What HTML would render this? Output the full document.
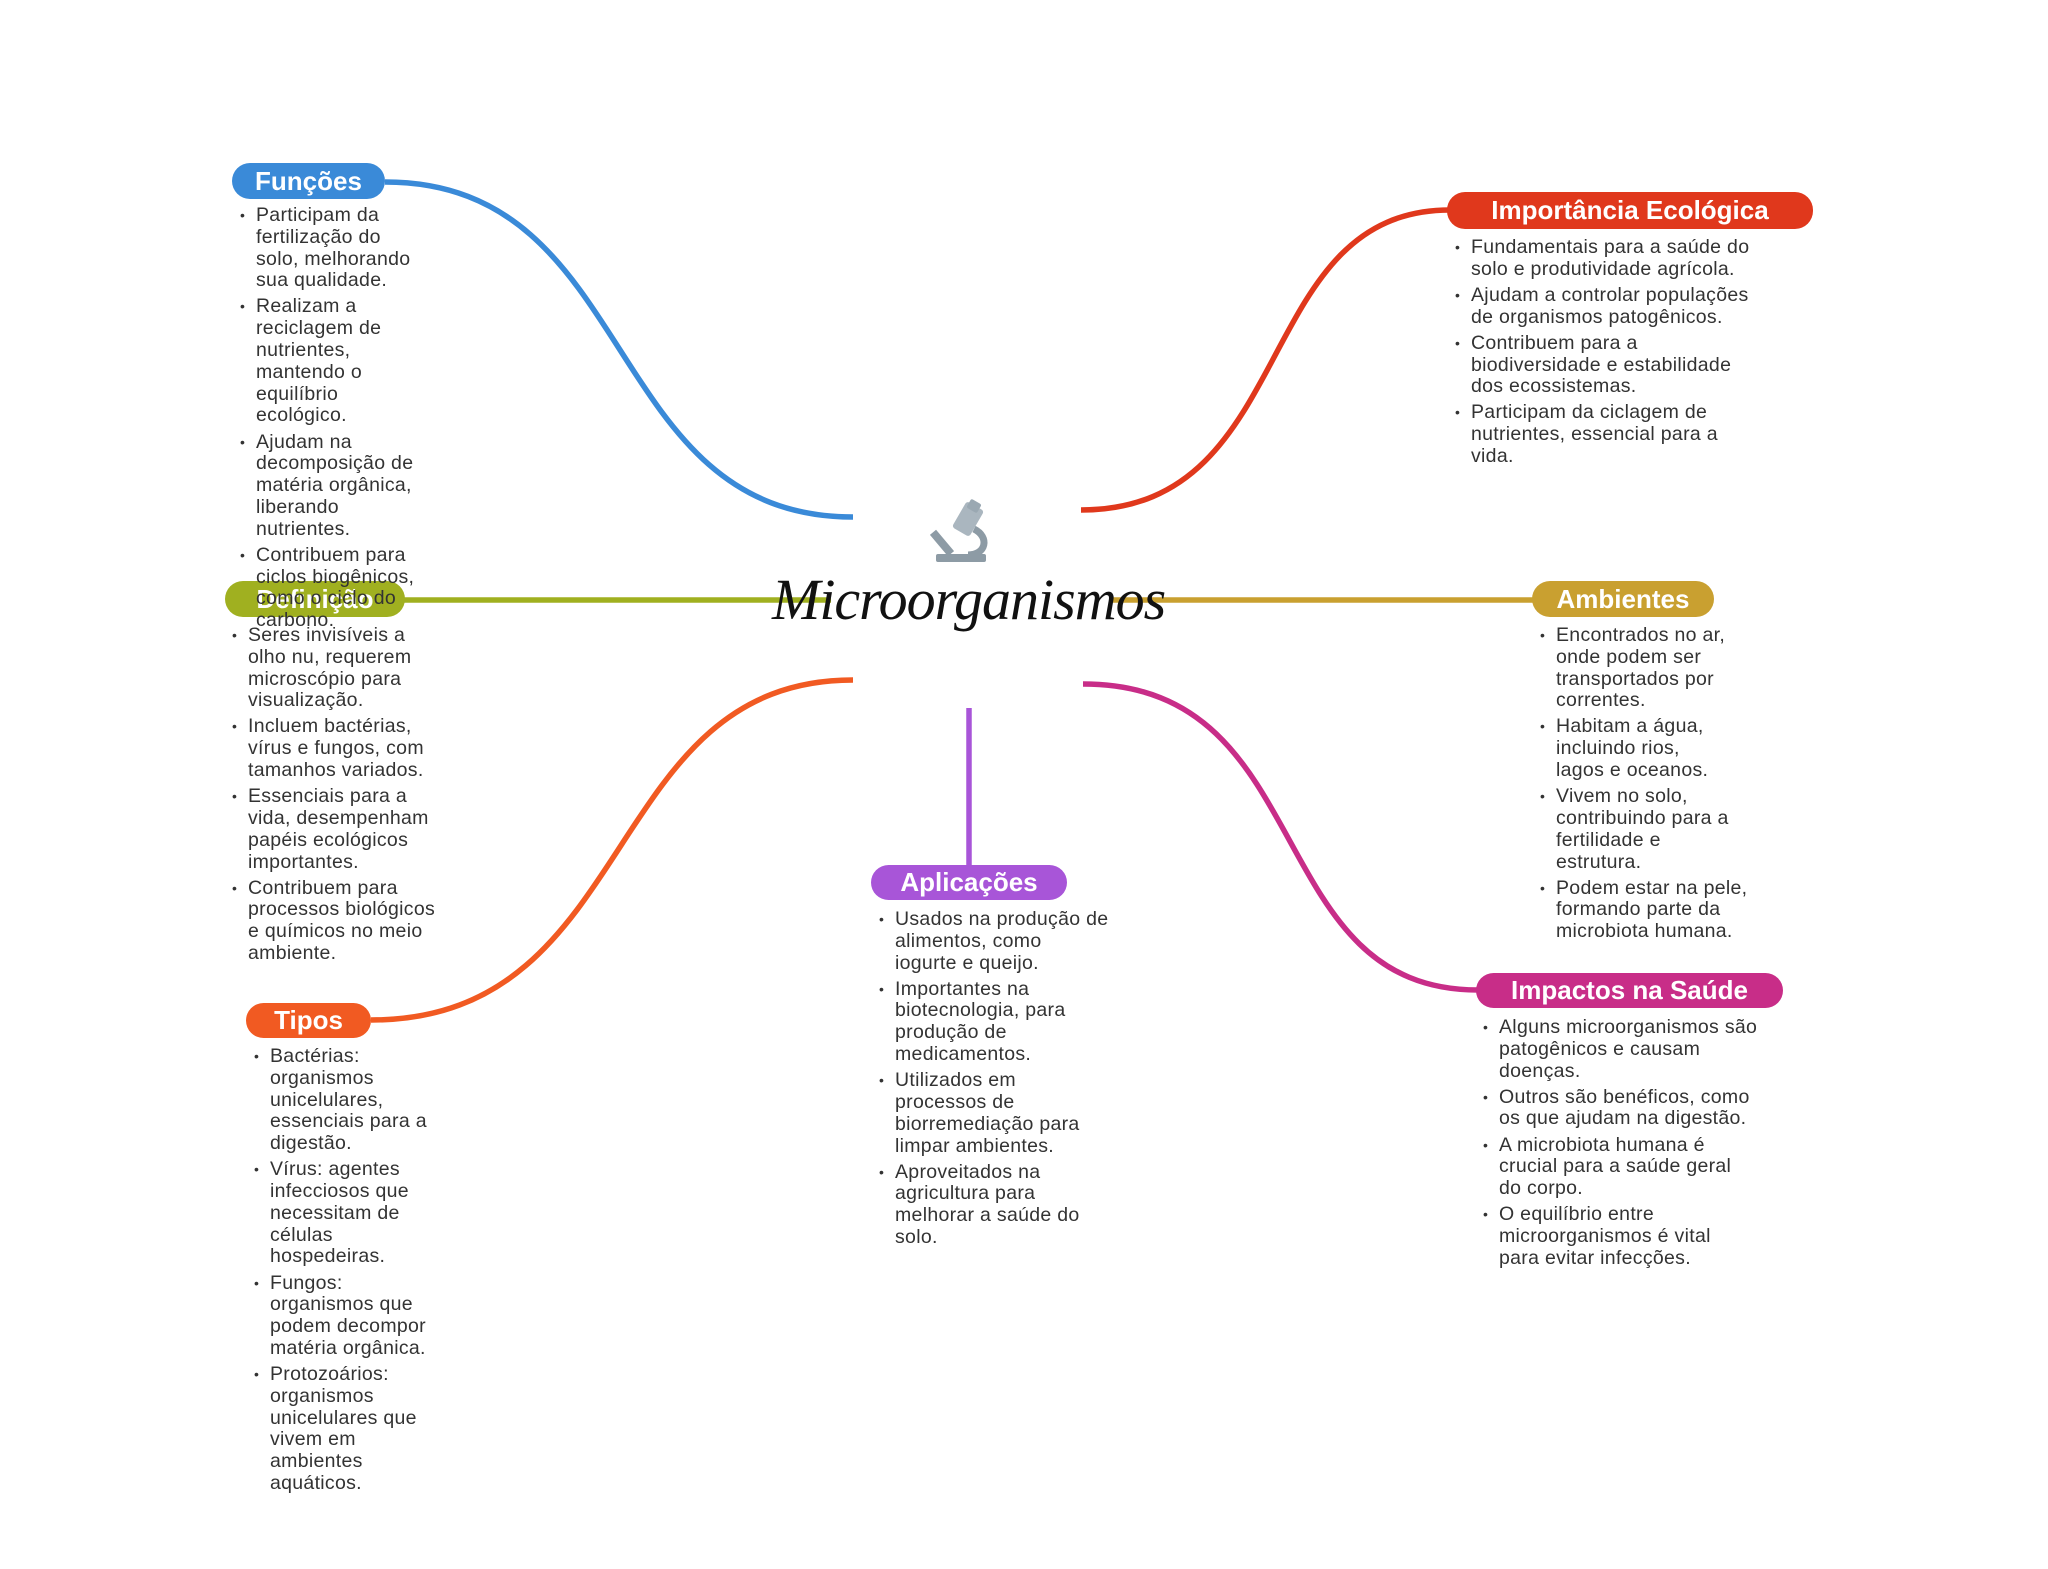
<!DOCTYPE html>
<html><head><meta charset="utf-8">
<style>
html,body{margin:0;padding:0;background:#fff;}
body{width:2048px;height:1569px;position:relative;overflow:hidden;font-family:"Liberation Sans",sans-serif;}
.pill{position:absolute;border-radius:18px;color:#fff;font-weight:bold;font-size:26px;display:flex;align-items:center;justify-content:center;box-sizing:border-box;white-space:nowrap;z-index:1;}
ul{position:absolute;margin:0;padding:0;list-style:none;color:#333;font-size:19.5px;line-height:21.8px;white-space:nowrap;letter-spacing:0.3px;z-index:2;}
li{position:relative;margin-bottom:4.3px;}
li::before{content:"•";position:absolute;left:-16px;font-size:14px;}
.title{position:absolute;left:772px;top:566px;font-family:"Liberation Serif",serif;font-style:italic;font-size:58px;color:#111;white-space:nowrap;letter-spacing:-1px;z-index:2;}
</style></head><body>
<svg width="2048" height="1569" style="position:absolute;left:0;top:0">
<g fill="none" stroke-width="5.5">
<path d="M385 182 C640 182 600 517 853 517" stroke="#3a8ad8"/>
<path d="M1081 510 C1300 510 1250 210 1450 210" stroke="#e0381c"/>
<path d="M400 600 L831 600" stroke="#a0b020"/>
<path d="M1110 600 L1535 600" stroke="#c9a030"/>
<path d="M969 708 L969 866" stroke="#a855d8"/>
<path d="M371 1020 C640 1020 600 680 853 680" stroke="#f15a22"/>
<path d="M1083 684 C1320 684 1260 990 1478 990" stroke="#c82d88"/>
</g>
<g transform="translate(934,501)">
<rect x="24" y="3" width="20" height="30" rx="3" fill="#aab6bf" transform="rotate(30 34 18)"/>
<rect x="34" y="0" width="12" height="10" rx="2" fill="#9aa8b2" transform="rotate(30 40 5)"/>
<path d="M40 28 C56 36 52 54 34 54" stroke="#8d9ba5" stroke-width="7" fill="none"/>
<rect x="4" y="28" width="8" height="28" fill="#8d9ba5" transform="rotate(-40 8 42)"/>
<rect x="2" y="53" width="50" height="8" rx="2" fill="#8d9ba5"/>
</g>
</svg>
<div class="title">Microorganismos</div>

<div class="pill" style="left:232px;top:163px;width:153px;height:36px;background:#3a8ad8">Funções</div>
<ul style="left:256px;top:205px">
<li>Participam da<br>fertilização do<br>solo, melhorando<br>sua qualidade.</li>
<li>Realizam a<br>reciclagem de<br>nutrientes,<br>mantendo o<br>equilíbrio<br>ecológico.</li>
<li>Ajudam na<br>decomposição de<br>matéria orgânica,<br>liberando<br>nutrientes.</li>
<li>Contribuem para<br>ciclos biogênicos,<br>como o ciclo do<br>carbono.</li>
</ul>

<div class="pill" style="left:225px;top:581px;width:180px;height:36px;background:#a0b020">Definição</div>
<ul style="left:248px;top:625px">
<li>Seres invisíveis a<br>olho nu, requerem<br>microscópio para<br>visualização.</li>
<li>Incluem bactérias,<br>vírus e fungos, com<br>tamanhos variados.</li>
<li>Essenciais para a<br>vida, desempenham<br>papéis ecológicos<br>importantes.</li>
<li>Contribuem para<br>processos biológicos<br>e químicos no meio<br>ambiente.</li>
</ul>

<div class="pill" style="left:1447px;top:192px;width:366px;height:37px;background:#e0381c">Importância Ecológica</div>
<ul style="left:1471px;top:237px">
<li>Fundamentais para a saúde do<br>solo e produtividade agrícola.</li>
<li>Ajudam a controlar populações<br>de organismos patogênicos.</li>
<li>Contribuem para a<br>biodiversidade e estabilidade<br>dos ecossistemas.</li>
<li>Participam da ciclagem de<br>nutrientes, essencial para a<br>vida.</li>
</ul>

<div class="pill" style="left:1532px;top:581px;width:182px;height:36px;background:#c9a030">Ambientes</div>
<ul style="left:1556px;top:625px">
<li>Encontrados no ar,<br>onde podem ser<br>transportados por<br>correntes.</li>
<li>Habitam a água,<br>incluindo rios,<br>lagos e oceanos.</li>
<li>Vivem no solo,<br>contribuindo para a<br>fertilidade e<br>estrutura.</li>
<li>Podem estar na pele,<br>formando parte da<br>microbiota humana.</li>
</ul>

<div class="pill" style="left:871px;top:865px;width:196px;height:35px;background:#a855d8">Aplicações</div>
<ul style="left:895px;top:909px">
<li>Usados na produção de<br>alimentos, como<br>iogurte e queijo.</li>
<li>Importantes na<br>biotecnologia, para<br>produção de<br>medicamentos.</li>
<li>Utilizados em<br>processos de<br>biorremediação para<br>limpar ambientes.</li>
<li>Aproveitados na<br>agricultura para<br>melhorar a saúde do<br>solo.</li>
</ul>

<div class="pill" style="left:246px;top:1003px;width:125px;height:35px;background:#f15a22">Tipos</div>
<ul style="left:270px;top:1046px">
<li>Bactérias:<br>organismos<br>unicelulares,<br>essenciais para a<br>digestão.</li>
<li>Vírus: agentes<br>infecciosos que<br>necessitam de<br>células<br>hospedeiras.</li>
<li>Fungos:<br>organismos que<br>podem decompor<br>matéria orgânica.</li>
<li>Protozoários:<br>organismos<br>unicelulares que<br>vivem em<br>ambientes<br>aquáticos.</li>
</ul>

<div class="pill" style="left:1476px;top:973px;width:307px;height:35px;background:#c82d88">Impactos na Saúde</div>
<ul style="left:1499px;top:1017px">
<li>Alguns microorganismos são<br>patogênicos e causam<br>doenças.</li>
<li>Outros são benéficos, como<br>os que ajudam na digestão.</li>
<li>A microbiota humana é<br>crucial para a saúde geral<br>do corpo.</li>
<li>O equilíbrio entre<br>microorganismos é vital<br>para evitar infecções.</li>
</ul>
</body></html>
